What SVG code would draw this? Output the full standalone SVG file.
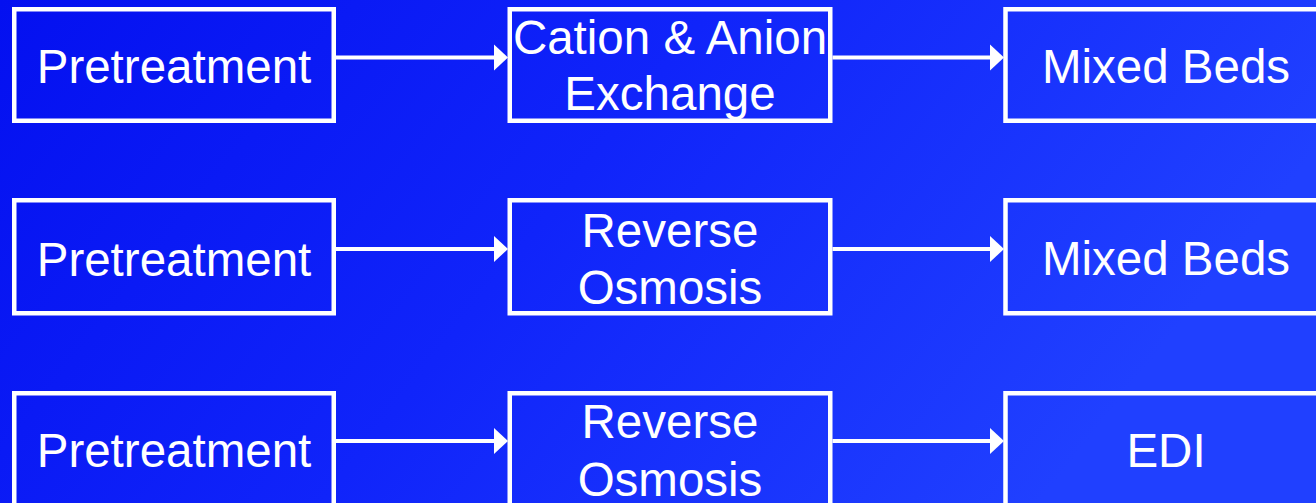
<svg xmlns="http://www.w3.org/2000/svg" width="1316" height="503" viewBox="0 0 1316 503">
<defs>
<linearGradient id="bg" x1="0" y1="0" x2="1" y2="0.3">
<stop offset="0" stop-color="#0410f0"/>
<stop offset="0.5" stop-color="#1024fa"/>
<stop offset="1" stop-color="#2040ff"/>
</linearGradient>
<style>
.box{fill:none;stroke:#ffffff;stroke-width:4.5}
.lbl{font-family:"Liberation Sans",Arial,sans-serif;font-size:47.5px;fill:#ffffff;text-anchor:middle}
.con{stroke:#ffffff;stroke-width:4}
.head{fill:#ffffff}
</style>
</defs>
<rect x="0" y="0" width="1316" height="503" fill="url(#bg)"/>
<g id="connectors">
<line class="con" x1="336" y1="57.5" x2="495" y2="57.5"/>
<polygon class="head" points="494,44.5 508,57.5 494,70.5"/>
<line class="con" x1="832.5" y1="57.5" x2="991" y2="57.5"/>
<polygon class="head" points="990,44.5 1004,57.5 990,70.5"/>
<line class="con" x1="336" y1="249" x2="495" y2="249"/>
<polygon class="head" points="494,236 508,249 494,262"/>
<line class="con" x1="832.5" y1="249" x2="991" y2="249"/>
<polygon class="head" points="990,236 1004,249 990,262"/>
<line class="con" x1="336" y1="441" x2="495" y2="441"/>
<polygon class="head" points="494,428 508,441 494,454"/>
<line class="con" x1="832.5" y1="441" x2="991" y2="441"/>
<polygon class="head" points="990,428 1004,441 990,454"/>
</g>
<g id="pre1">
<rect class="box" x="14.25" y="9.25" width="319.5" height="111.5"/>
<text class="lbl" x="174" y="83.3">Pretreatment</text>
</g>
<g id="cation">
<rect class="box" x="509.75" y="9.25" width="320.5" height="111.5"/>
<text class="lbl" x="670" y="53.5">Cation &amp; Anion</text>
<text class="lbl" x="670" y="110">Exchange</text>
</g>
<g id="mixed1">
<rect class="box" x="1005.5" y="9.25" width="330" height="111.5"/>
<text class="lbl" x="1166" y="83">Mixed Beds</text>
</g>
<g id="pre2">
<rect class="box" x="14.25" y="200.25" width="319.5" height="113"/>
<text class="lbl" x="174" y="275.5">Pretreatment</text>
</g>
<g id="ro1">
<rect class="box" x="509.75" y="200.25" width="320.5" height="113"/>
<text class="lbl" x="670" y="246.7">Reverse</text>
<text class="lbl" x="670" y="304">Osmosis</text>
</g>
<g id="mixed2">
<rect class="box" x="1005.5" y="200.25" width="330" height="113"/>
<text class="lbl" x="1166" y="275">Mixed Beds</text>
</g>
<g id="pre3">
<rect class="box" x="14.25" y="393.25" width="319.5" height="112"/>
<text class="lbl" x="174" y="467">Pretreatment</text>
</g>
<g id="ro2">
<rect class="box" x="509.75" y="393.25" width="320.5" height="112"/>
<text class="lbl" x="670" y="438.3">Reverse</text>
<text class="lbl" x="670" y="496">Osmosis</text>
</g>
<g id="edi">
<rect class="box" x="1005.5" y="393.25" width="330" height="112"/>
<text class="lbl" x="1166" y="466.7">EDI</text>
</g>
</svg>
